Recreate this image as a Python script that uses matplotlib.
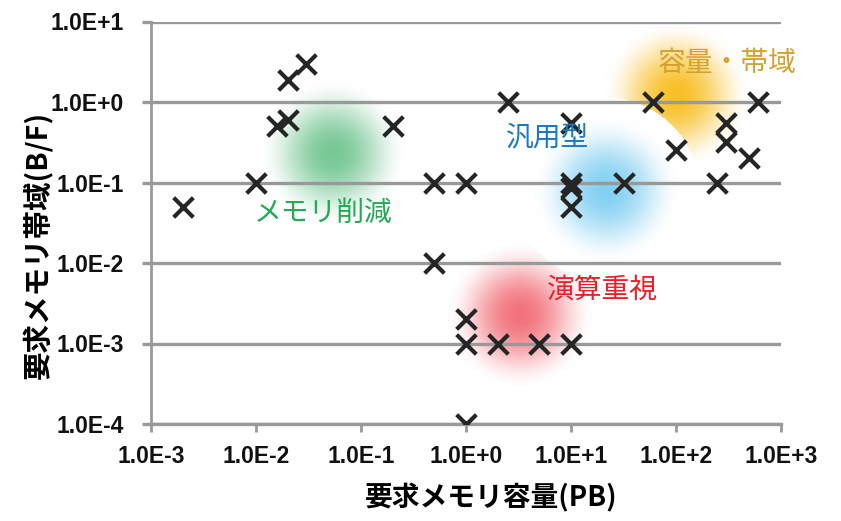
import numpy as np
import matplotlib
matplotlib.use("Agg")
import matplotlib.pyplot as plt

# ---- data ----
mem_pb = [0.002, 0.01, 0.016, 0.02, 0.02, 0.03, 0.2, 0.5, 0.5, 1.0,
          2.5, 10, 10, 10, 10, 32, 60, 100, 245, 300, 300, 500, 600,
          1.0, 1.0, 2.0, 5.0, 10, 1.0]
bw_bf = [0.05, 0.1, 0.5, 0.6, 1.9, 3.0, 0.5, 0.1, 0.01, 0.1,
         1.0, 0.55, 0.1, 0.085, 0.05, 0.1, 1.0, 0.25, 0.1, 0.55, 0.32, 0.2, 1.0,
         0.002, 0.001, 0.001, 0.001, 0.001, 0.0001]

x_ticks = [1e-3, 1e-2, 1e-1, 1e0, 1e1, 1e2, 1e3]
x_tick_labels = ["1.0E-3", "1.0E-2", "1.0E-1", "1.0E+0", "1.0E+1", "1.0E+2", "1.0E+3"]
y_ticks = [1e-4, 1e-3, 1e-2, 1e-1, 1e0, 1e1]
y_tick_labels = ["1.0E-4", "1.0E-3", "1.0E-2", "1.0E-1", "1.0E+0", "1.0E+1"]

# groups: label, blob centre (mem, bw), text position (mem, bw), colours
group_names = ["容量・帯域", "メモリ削減", "演算重視", "汎用型"]
group_centers = [(102, 1.22), (0.054, 0.232), (3.27, 0.00226), (22.0, 0.0807)]
group_text_pos = [(310, 3.05), (0.0435, 0.042), (20, 0.0047), (6.0, 0.36)]
group_blob_colors = [(247, 180, 0), (95, 190, 130), (240, 90, 100), (110, 200, 240)]
group_text_colors = ["#D4A030", "#22AA55", "#E8202A", "#1C78C0"]
group_halo = [0, 0, 0, 92]

# ---- fonts ----
tick_font = "Liberation Sans"
cjk = ["Noto Sans CJK JP", "DejaVu Sans"]

W, H = 841, 521
fig = plt.figure(figsize=(W / 100, H / 100), dpi=100)
pos = [151 / W, 1 - 424 / H, 630 / W, 402.5 / H]

# background blobs drawn in log space
ax_bg = fig.add_axes(pos)
ax_bg.set_xlim(-3, 3)
ax_bg.set_ylim(-4, 1)
ax_bg.axis("off")
nx, ny = 630, 403
lx = np.linspace(-3, 3, nx)
ly = np.linspace(1, -4, ny)
LX, LY = np.meshgrid(lx, ly)
pxx = pos[2] * W / 6.0
pxy = pos[3] * H / 5.0
img = np.ones((ny, nx, 3))
R = 74.0
for (cx, cy), col, halo in zip(group_centers, group_blob_colors, group_halo):
    dx = (LX - np.log10(cx)) * pxx
    dy = (LY - np.log10(cy)) * pxy
    d = np.hypot(dx, dy)
    if halo:
        img[d < halo] = 1.0
    w = 0.85 * np.clip(1 - (d / R) ** 2, 0, 1) ** 2
    c = np.array(col) / 255.0
    img = img * (1 - w[..., None]) + c * w[..., None]
ax_bg.imshow(img, extent=(-3, 3, -4, 1), aspect="auto", zorder=0, interpolation="bilinear")

ax = fig.add_axes(pos)
ax.patch.set_alpha(0)
ax.set_xscale("log")
ax.set_yscale("log")
ax.set_xlim(1e-3, 1e3)
ax.set_ylim(1e-4, 1e1)

grid_c = "#999999"
ax.yaxis.grid(True, color=grid_c, lw=2.4)
ax.set_axisbelow(True)
for s in ["top", "right"]:
    ax.spines[s].set_visible(False)
ax.spines["left"].set_color(grid_c)
ax.spines["left"].set_linewidth(2.0)
ax.spines["bottom"].set_color(grid_c)
ax.spines["bottom"].set_linewidth(2.4)

ax.set_xticks(x_ticks)
ax.set_xticklabels(x_tick_labels)
ax.set_yticks(y_ticks)
ax.set_yticklabels(y_tick_labels)
ax.minorticks_off()
ax.tick_params(axis="x", length=6, width=2, color=grid_c, pad=9)
ax.tick_params(axis="y", length=6.5, width=2.4, color=grid_c, pad=13)
for lab in ax.get_xticklabels() + ax.get_yticklabels():
    lab.set_fontfamily(tick_font)
    lab.set_fontweight("bold")
    lab.set_fontsize(16.5)
    lab.set_color("#111111")

ax.scatter(mem_pb, bw_bf, marker="x", s=200, color="#252525", linewidths=3.0, zorder=5)

for name, (tx, ty), tc in zip(group_names, group_text_pos, group_text_colors):
    ax.text(tx, ty, name, color=tc, fontsize=20, family=cjk, ha="center", va="center", zorder=6)

ax.set_xlabel("要求メモリ容量(PB)", family=cjk, fontsize=20, fontweight="bold", va="center")
ax.set_ylabel("要求メモリ帯域(B/F)", family=cjk, fontsize=20.5, fontweight="bold", va="center")
ax.xaxis.set_label_coords((491 - 151) / 630, (424 - 498) / 402.5)
ax.yaxis.set_label_coords((38 - 151) / 630, (424 - 245) / 402.5)

fig.savefig("out.png", dpi=100)
